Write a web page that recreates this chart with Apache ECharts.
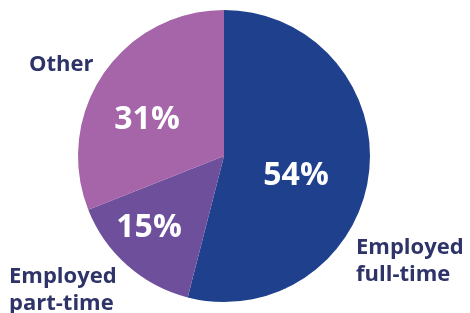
<!DOCTYPE html>
<html>
<head>
<meta charset="utf-8">
<script src="https://cdn.jsdelivr.net/npm/echarts@6/dist/echarts.min.js"></script>
<style>
html,body{margin:0;padding:0;background:#fff;}
#chart{width:470px;height:313px;}
</style>
</head>
<body>
<div id="chart"></div>
<script>
var names = ['Employed\nfull-time', 'Employed\npart-time', 'Other'];
var values = [54, 15, 31];
var colors = ['#1f408c', '#6e4f9c', '#a565a8'];

// label spots (inside percentages, outside names)
var pctPos = [[296, 176], [149, 228], [147, 120]];
var namePos = [[356, 261, 'left'], [9, 290, 'left'], [29, 65, 'left']];

var data = names.map(function (n, i) {
    return { name: n, value: values[i], itemStyle: { color: colors[i] } };
});

var chart = echarts.init(document.getElementById('chart'));
var option = {
    animation: false,
    series: [
        {
            type: 'pie',
            center: [224, 156],
            radius: 146,
            startAngle: 90,
            clockwise: true,
            silent: true,
            itemStyle: { borderWidth: 0 },
            label: {
                show: true,
                position: 'inside',
                formatter: '{c}%',
                color: '#fff',
                fontFamily: 'Open Sans',
                fontWeight: 'bold',
                fontSize: 32
            },
            labelLayout: function (p) {
                var q = pctPos[p.dataIndex];
                return { x: q[0], y: q[1], align: 'center', verticalAlign: 'middle' };
            },
            data: data
        },
        {
            type: 'pie',
            center: [224, 156],
            radius: 146,
            startAngle: 90,
            silent: true,
            z: 1,
            data: names.map(function (n, i) {
                return { name: n, value: values[i], itemStyle: { color: 'rgba(0,0,0,0)' } };
            }),
            label: {
                show: true,
                position: 'outside',
                formatter: '{b}',
                overflow: 'none',
                width: 200,
                color: '#2e3368',
                fontFamily: 'Open Sans',
                fontWeight: 'bold',
                fontSize: 22,
                lineHeight: 27
            },
            labelLine: { show: false },
            labelLayout: function (p) {
                var q = namePos[p.dataIndex];
                return { x: q[0], y: q[1], align: q[2], verticalAlign: 'middle' };
            }
        }
    ]
};
chart.setOption(option);
</script>
</body>
</html>
